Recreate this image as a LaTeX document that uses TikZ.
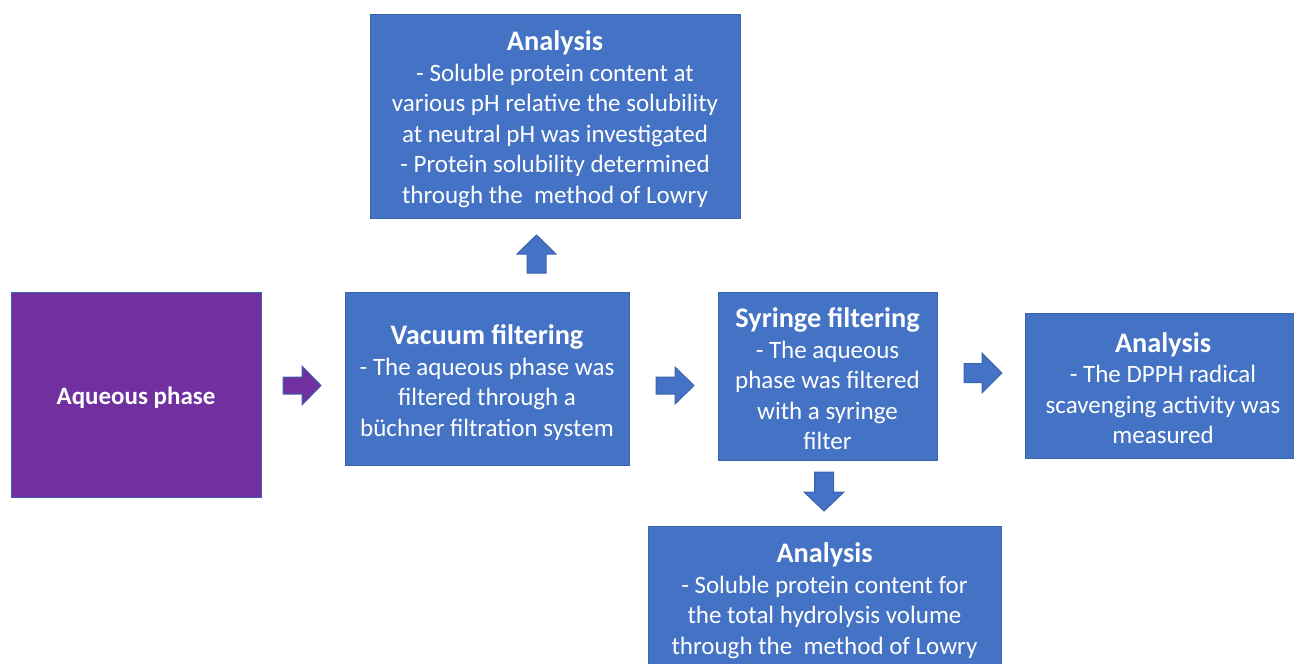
\documentclass[tikz,border=0pt]{standalone}
\usepackage{fontspec}
\setmainfont{Carlito}
\definecolor{boxblue}{HTML}{4472C4}
\definecolor{boxline}{HTML}{3B64AD}
\definecolor{purp}{HTML}{7030A0}
\newcommand\boxtitle[1]{{\fontsize{28.3}{30.5}\selectfont\bfseries #1}}
\begin{document}
\begin{tikzpicture}[x=1pt,y=-1pt,
  box/.style={draw=boxline,line width=1pt,fill=boxblue,inner sep=0pt},
  pbox/.style={box,fill=purp},
  txt/.style={text=white,inner sep=0pt,align=center,font=\fontsize{25}{30.5}\selectfont},
  barrow/.style={draw=boxline,line width=1pt,fill=boxblue},
  parrow/.style={barrow,fill=purp}]
\useasboundingbox (0,0) rectangle (1294,664);
\clip (0,0) rectangle (1294,664);
\node[pbox,minimum width=250pt,minimum height=205pt] (aq) at (136,394.5) {};
\node[txt] (aqt) at (136,398) {\textbf{Aqueous phase}};
\node[box,minimum width=370pt,minimum height=204pt] (an1) at (555,116) {};
\node[txt] (an1t) at (555,119) {\boxtitle{Analysis}\\- Soluble protein content at\\various pH relative the solubility\\at neutral pH was investigated\\- Protein solubility determined\\through the\ \ method of Lowry};
\node[box,minimum width=284pt,minimum height=173pt] (vac) at (487,378.5) {};
\node[txt] (vact) at (487,382.5) {\boxtitle{Vacuum filtering}\\- The aqueous phase was\\filtered through a\\büchner filtration system};
\node[box,minimum width=219pt,minimum height=168pt] (syr) at (827.5,376) {};
\node[txt] (syrt) at (827.5,379) {\boxtitle{Syringe filtering}\\- The aqueous\\phase was filtered\\with a syringe\\filter};
\node[box,minimum width=280pt,minimum height=145pt,anchor=west] (an2) at (1025,385.5) {};
\node[txt] (an2t) at (1163,388) {\boxtitle{Analysis}\\- The DPPH radical\\scavenging activity was\\measured};
\node[box,minimum width=353pt,minimum height=144pt] (an3) at (824.5,598) {};
\node[txt] (an3t) at (824.5,600.5) {\boxtitle{Analysis}\\- Soluble protein content for\\the total hydrolysis volume\\through the\ \ method of Lowry};
% block arrows
\draw[parrow] (283,377) -- (302,377) -- (302,366) -- (321,385.5) -- (302,405) -- (302,394) -- (283,394) -- cycle;
\draw[barrow] (656,377) -- (675,377) -- (675,367) -- (694,385.5) -- (675,404) -- (675,394) -- (656,394) -- cycle;
\draw[barrow] (964,363.5) -- (982,363.5) -- (982,353) -- (1002,373) -- (982,393) -- (982,382.5) -- (964,382.5) -- cycle;
\draw[barrow] (527,273) -- (527,254) -- (517,254) -- (536.5,235) -- (556,254) -- (546,254) -- (546,273) -- cycle;
\draw[barrow] (814.5,472) -- (814.5,492) -- (804,492) -- (824,511) -- (844,492) -- (833.5,492) -- (833.5,472) -- cycle;
\end{tikzpicture}
\end{document}
